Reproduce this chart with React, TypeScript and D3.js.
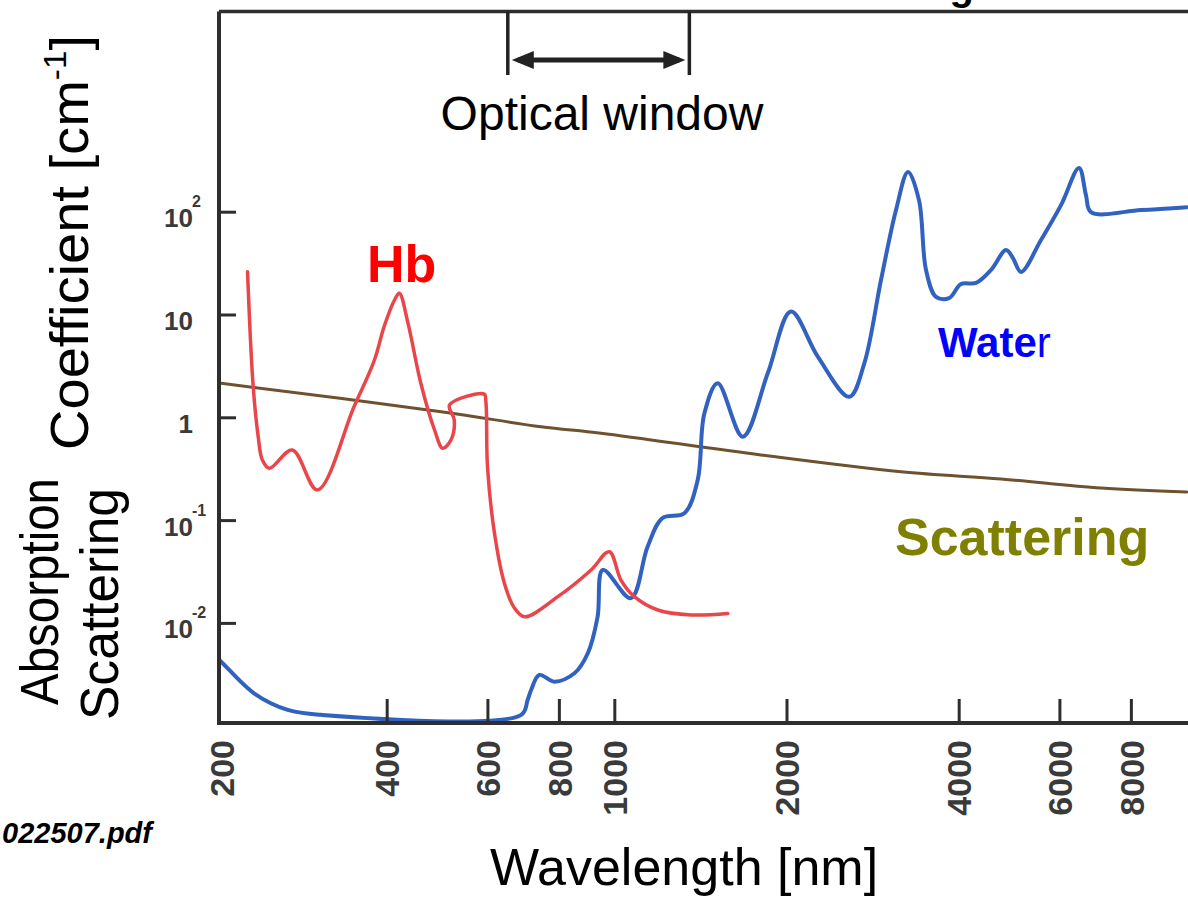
import React from "react";
import * as d3 from "d3";

// ---- data ----
const wavelengthTicks = [200, 400, 600, 800, 1000, 2000, 4000, 6000, 8000];
const coefTicks = [0.01, 0.1, 1, 10, 100];
const coefTickBase = ["10", "10", "1", "10", "10"];
const coefTickExp = ["-2", "-1", "", "", "2"];

const hbWavelength = [228, 233, 238, 242, 249, 273, 302, 350, 380, 395, 412, 420, 435, 458, 484, 500, 517, 524, 514, 591, 595, 599, 616, 641, 666, 695, 795, 909, 978, 1025, 1082, 1189, 1359, 1576];
const hbValue = [26.4, 2.18, 0.655, 0.389, 0.323, 0.486, 0.199, 1.28, 3.65, 7.69, 14.0, 16.3, 8.3, 2.17, 0.761, 0.505, 0.608, 0.952, 1.33, 1.7, 1.45, 0.334, 0.0757, 0.0247, 0.0144, 0.0116, 0.0182, 0.0331, 0.0498, 0.0264, 0.0182, 0.0135, 0.0121, 0.0125];

const waterWavelength = [200, 205, 234, 268, 306, 686, 704, 714, 738, 784, 850, 897, 933, 953, 1067, 1141, 1212, 1323, 1396, 1434, 1513, 1674, 1851, 2032, 2264, 2570, 2730, 2920, 3102, 3255, 3402, 3500, 3644, 3840, 4030, 4280, 4547, 4830, 4967, 5130, 5560, 6026, 6480, 6663, 6800, 8316, 10000];
const waterValue = [0.0048, 0.00424, 0.00209, 0.00144, 0.00129, 0.00129, 0.0018, 0.00225, 0.00315, 0.00271, 0.00327, 0.00512, 0.0116, 0.0331, 0.0176, 0.0557, 0.106, 0.118, 0.248, 1.1, 2.17, 0.655, 2.71, 10.8, 3.93, 1.6, 3.39, 21.9, 105, 246, 131, 27.4, 15.0, 14.6, 20.0, 20.5, 27.4, 42.9, 35.8, 26.2, 53.6, 117, 269, 147, 100, 105, 112];

const scatterWavelength = [205, 497, 743, 946, 1801, 3164, 4732, 7080, 10000];
const scatterValue = [2.17, 1.146, 0.819, 0.707, 0.435, 0.299, 0.254, 0.2075, 0.19];

const opticalWindow = [650, 1350];

const W = 1188;
const H = 897;
const FONT = "'Liberation Sans', Arial, Helvetica, sans-serif";
const NARROW = "'Liberation Sans Narrow', 'Liberation Sans', Arial, sans-serif";

export default function App() {
  const left = 219, top = 11.5, bottom = 723, right = 1200;
  const x = d3.scaleLog().domain([200, 10000]).range([215, 215 + 572 * Math.log10(50)]);
  const y = d3.scaleLog().domain([1e-3, 1e4]).range([726.2, 6.6]);

  const line = d3
    .line<[number, number]>()
    .x((d) => x(d[0]))
    .y((d) => y(d[1]))
    .curve(d3.curveCatmullRom.alpha(0.5));

  const hb = hbWavelength.map((w, i) => [w, hbValue[i]] as [number, number]);
  const water = waterWavelength.map((w, i) => [w, waterValue[i]] as [number, number]);
  const scatter = scatterWavelength.map((w, i) => [w, scatterValue[i]] as [number, number]);

  const owL = x(opticalWindow[0]);
  const owR = x(opticalWindow[1]);
  const arrowY = 60;
  const head = 22;

  return (
    <svg width={W} height={H} style={{ position: "absolute", left: 0, top: 0, background: "#fff" }}>
      <defs>
        <clipPath id="plotClip">
          <rect x={left} y={top} width={right - left} height={bottom - top} />
        </clipPath>
      </defs>
      <rect x={0} y={0} width={W} height={H} fill="#fff" />

      {/* title, cut off at the top edge as in the reference */}
      <text x={974} y={0} textAnchor="end" fontFamily={FONT} fontWeight="bold" fontSize={40} fill="#000">
        Near-Infrared Window for Tissue Sensing
      </text>

      {/* curves */}
      <g clipPath="url(#plotClip)" fill="none" strokeLinejoin="round" strokeLinecap="round">
        <path d={line(scatter) || ""} stroke="#6e5230" strokeWidth={3} />
        <path d={line(water) || ""} stroke="#3162c0" strokeWidth={4} />
        <path d={line(hb) || ""} stroke="#e8464a" strokeWidth={3.5} />
      </g>

      {/* frame */}
      <g stroke="#2e2e2e" fill="none">
        <line x1={left} y1={top} x2={left} y2={bottom + 2} strokeWidth={4} />
        <line x1={left} y1={top} x2={right} y2={top} strokeWidth={3.5} />
        <line x1={left - 2} y1={bottom} x2={right} y2={bottom} strokeWidth={4} />
      </g>

      {/* x ticks */}
      {wavelengthTicks.map((t) => (
        <g key={"xt" + t}>
          {t > 200 && <line x1={x(t)} x2={x(t)} y1={bottom} y2={bottom - 24} stroke="#2e2e2e" strokeWidth={3} />}
          <text
            transform={`translate(${Math.max(x(t), 222)},740) rotate(-90)`}
            textAnchor="end"
            dy="0.36em"
            fontFamily={FONT}
            fontWeight="bold"
            fontSize={34}
            fill="#3a3a3a"
          >
            {t}
          </text>
        </g>
      ))}

      {/* y ticks */}
      {coefTicks.map((t, i) => (
        <g key={"yt" + t}>
          <line x1={left} x2={left + 17} y1={y(t)} y2={y(t)} stroke="#2e2e2e" strokeWidth={3} />
          <text x={193} y={y(t) + 15} textAnchor="end" fontFamily={FONT} fontWeight="bold" fontSize={26} fill="#3a3a3a">
            {coefTickBase[i]}
          </text>
          {coefTickExp[i] && (
            <text x={192} y={y(t) - 5} textAnchor="start" fontFamily={FONT} fontWeight="bold" fontSize={16} fill="#3a3a3a">
              {coefTickExp[i]}
            </text>
          )}
        </g>
      ))}

      {/* optical window */}
      <g stroke="#222" strokeWidth={3.5}>
        <line x1={owL} x2={owL} y1={top} y2={75} />
        <line x1={owR} x2={owR} y1={top} y2={75} />
        <line x1={owL + 10} x2={owR - 10} y1={arrowY} y2={arrowY} strokeWidth={5} />
      </g>
      <path
        d={`M${owL + 4},${arrowY} L${owL + 4 + head},${arrowY - 9} L${owL + 4 + head},${arrowY + 9} Z M${owR - 4},${arrowY} L${owR - 4 - head},${arrowY - 9} L${owR - 4 - head},${arrowY + 9} Z`}
        fill="#222"
      />
      <text x={602} y={130} textAnchor="middle" fontFamily={FONT} fontSize={48} fill="#000">
        Optical window
      </text>

      {/* series labels */}
      <text x={367} y={282} fontFamily={FONT} fontWeight="bold" fontSize={52} fill="#ff0000">
        Hb
      </text>
      <text x={938} y={357} fontFamily={FONT} fontSize={42} fill="#0000ff">
        <tspan fontWeight="bold">Wate</tspan>
        <tspan>r</tspan>
      </text>
      <text x={895} y={555} fontFamily={FONT} fontWeight="bold" fontSize={52} fill="#808000">
        Scattering
      </text>

      {/* axis titles */}
      <text x={684} y={885} textAnchor="middle" fontFamily={FONT} fontSize={52} fill="#000">
        Wavelength [nm]
      </text>
      <text
        transform="translate(58,705) rotate(-90)"
        fontFamily={NARROW}
        fontSize={54}
        fill="#000"
        textLength={227}
        lengthAdjust="spacingAndGlyphs"
      >
        Absorption
      </text>
      <text
        transform="translate(118,720) rotate(-90)"
        fontFamily={NARROW}
        fontSize={54}
        fill="#000"
        textLength={232}
        lengthAdjust="spacingAndGlyphs"
      >
        Scattering
      </text>
      <text
        transform="translate(88,450) rotate(-90)"
        fontFamily={NARROW}
        fontSize={54}
        fill="#000"
        textLength={415}
        lengthAdjust="spacingAndGlyphs"
      >
        Coefficient [cm<tspan fontSize={32} dy={-22}>-1</tspan>
        <tspan dy={22}>]</tspan>
      </text>

      {/* source note */}
      <text x={152} y={843} textAnchor="end" fontFamily={FONT} fontWeight="bold" fontStyle="italic" fontSize={29} fill="#000">
        022507.pdf
      </text>
    </svg>
  );
}
